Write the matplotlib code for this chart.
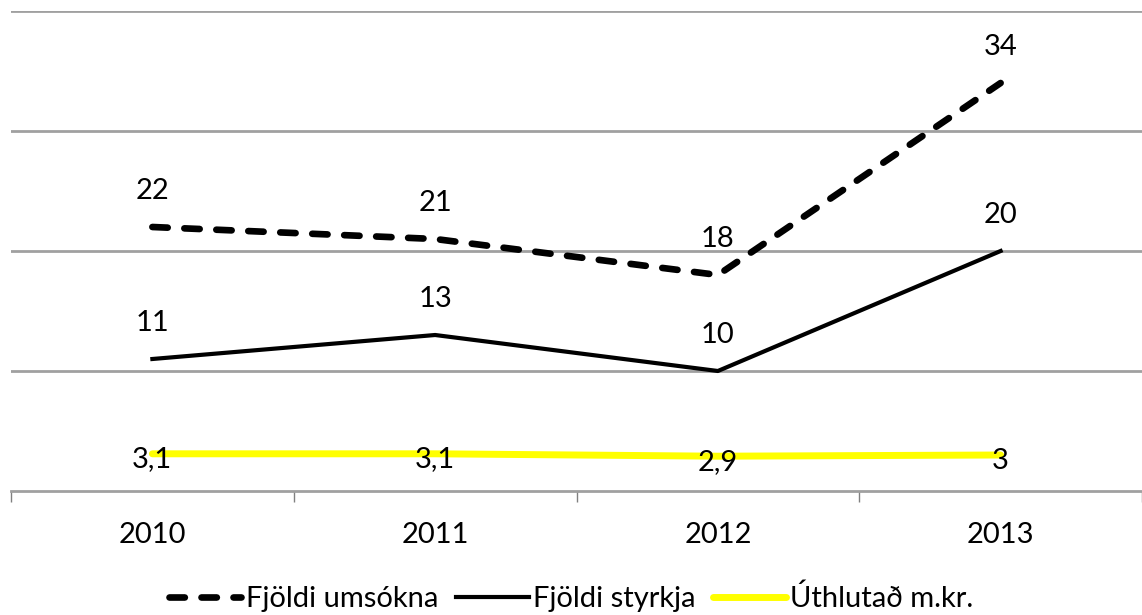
import matplotlib.pyplot as plt

plt.rcParams['font.family'] = ['Lato', 'DejaVu Sans']

years = ['2010', '2011', '2012', '2013']
umsokna = [22, 21, 18, 34]
styrkja = [11, 13, 10, 20]
uthlutad = [3.1, 3.1, 2.9, 3]

fig = plt.figure(figsize=(11.42, 6.15), dpi=100)
ax = fig.add_axes([11 / 1142, 124 / 615, 1 - 11 / 1142, 480 / 615])

x = range(len(years))
fs = 21

l1, = ax.plot(x, umsokna, color='black', lw=4.8, linestyle=(0, (2.3, 2.5)),
              dash_capstyle='round', solid_capstyle='round', label='Fjöldi umsókna', zorder=3)
l2, = ax.plot(x, styrkja, color='black', lw=3, label='Fjöldi styrkja', zorder=3)
l3, = ax.plot(x, uthlutad, color='#ffff00', lw=5, solid_capstyle='round',
              label='Úthlutað m.kr.', zorder=2)

# data labels
for i, v in enumerate(umsokna):
    ax.annotate(str(v), (i, v), xytext=(0, 26), textcoords='offset points',
                ha='center', va='center', fontsize=fs)
for i, v in enumerate(styrkja):
    ax.annotate(str(v), (i, v), xytext=(0, 26), textcoords='offset points',
                ha='center', va='center', fontsize=fs)
for i, v in enumerate(uthlutad):
    ax.annotate(f'{v:g}'.replace('.', ','), (i, v), xytext=(0, -4), textcoords='offset points',
                ha='center', va='center', fontsize=fs, zorder=4)

ax.set_xlim(-0.5, 3.5)
ax.set_ylim(0, 40)
ax.set_yticks([10, 20, 30, 40])
ax.yaxis.grid(True, color='#a0a0a0', lw=2)
ax.set_axisbelow(True)
ax.tick_params(axis='y', left=False, labelleft=False)

ax.set_xticks([-0.5, 0.5, 1.5, 2.5, 3.5])
ax.set_xticklabels([])
ax.set_xticks(list(x), minor=True)
ax.set_xticklabels(years, minor=True, fontsize=fs)
ax.tick_params(axis='x', which='major', length=8, width=1, color='#808080')
ax.tick_params(axis='x', which='minor', length=0, pad=22)

for s in ['top', 'right', 'left']:
    ax.spines[s].set_visible(False)
ax.spines['bottom'].set_color('#a0a0a0')
ax.spines['bottom'].set_linewidth(2)

fig.legend(handles=[l1, l2, l3], loc='center', bbox_to_anchor=(0.5, 17 / 615),
           ncol=3, frameon=False, fontsize=fs, handlelength=2.5, handletextpad=0.15,
           columnspacing=0.6)

fig.savefig('out.png', dpi=100)
